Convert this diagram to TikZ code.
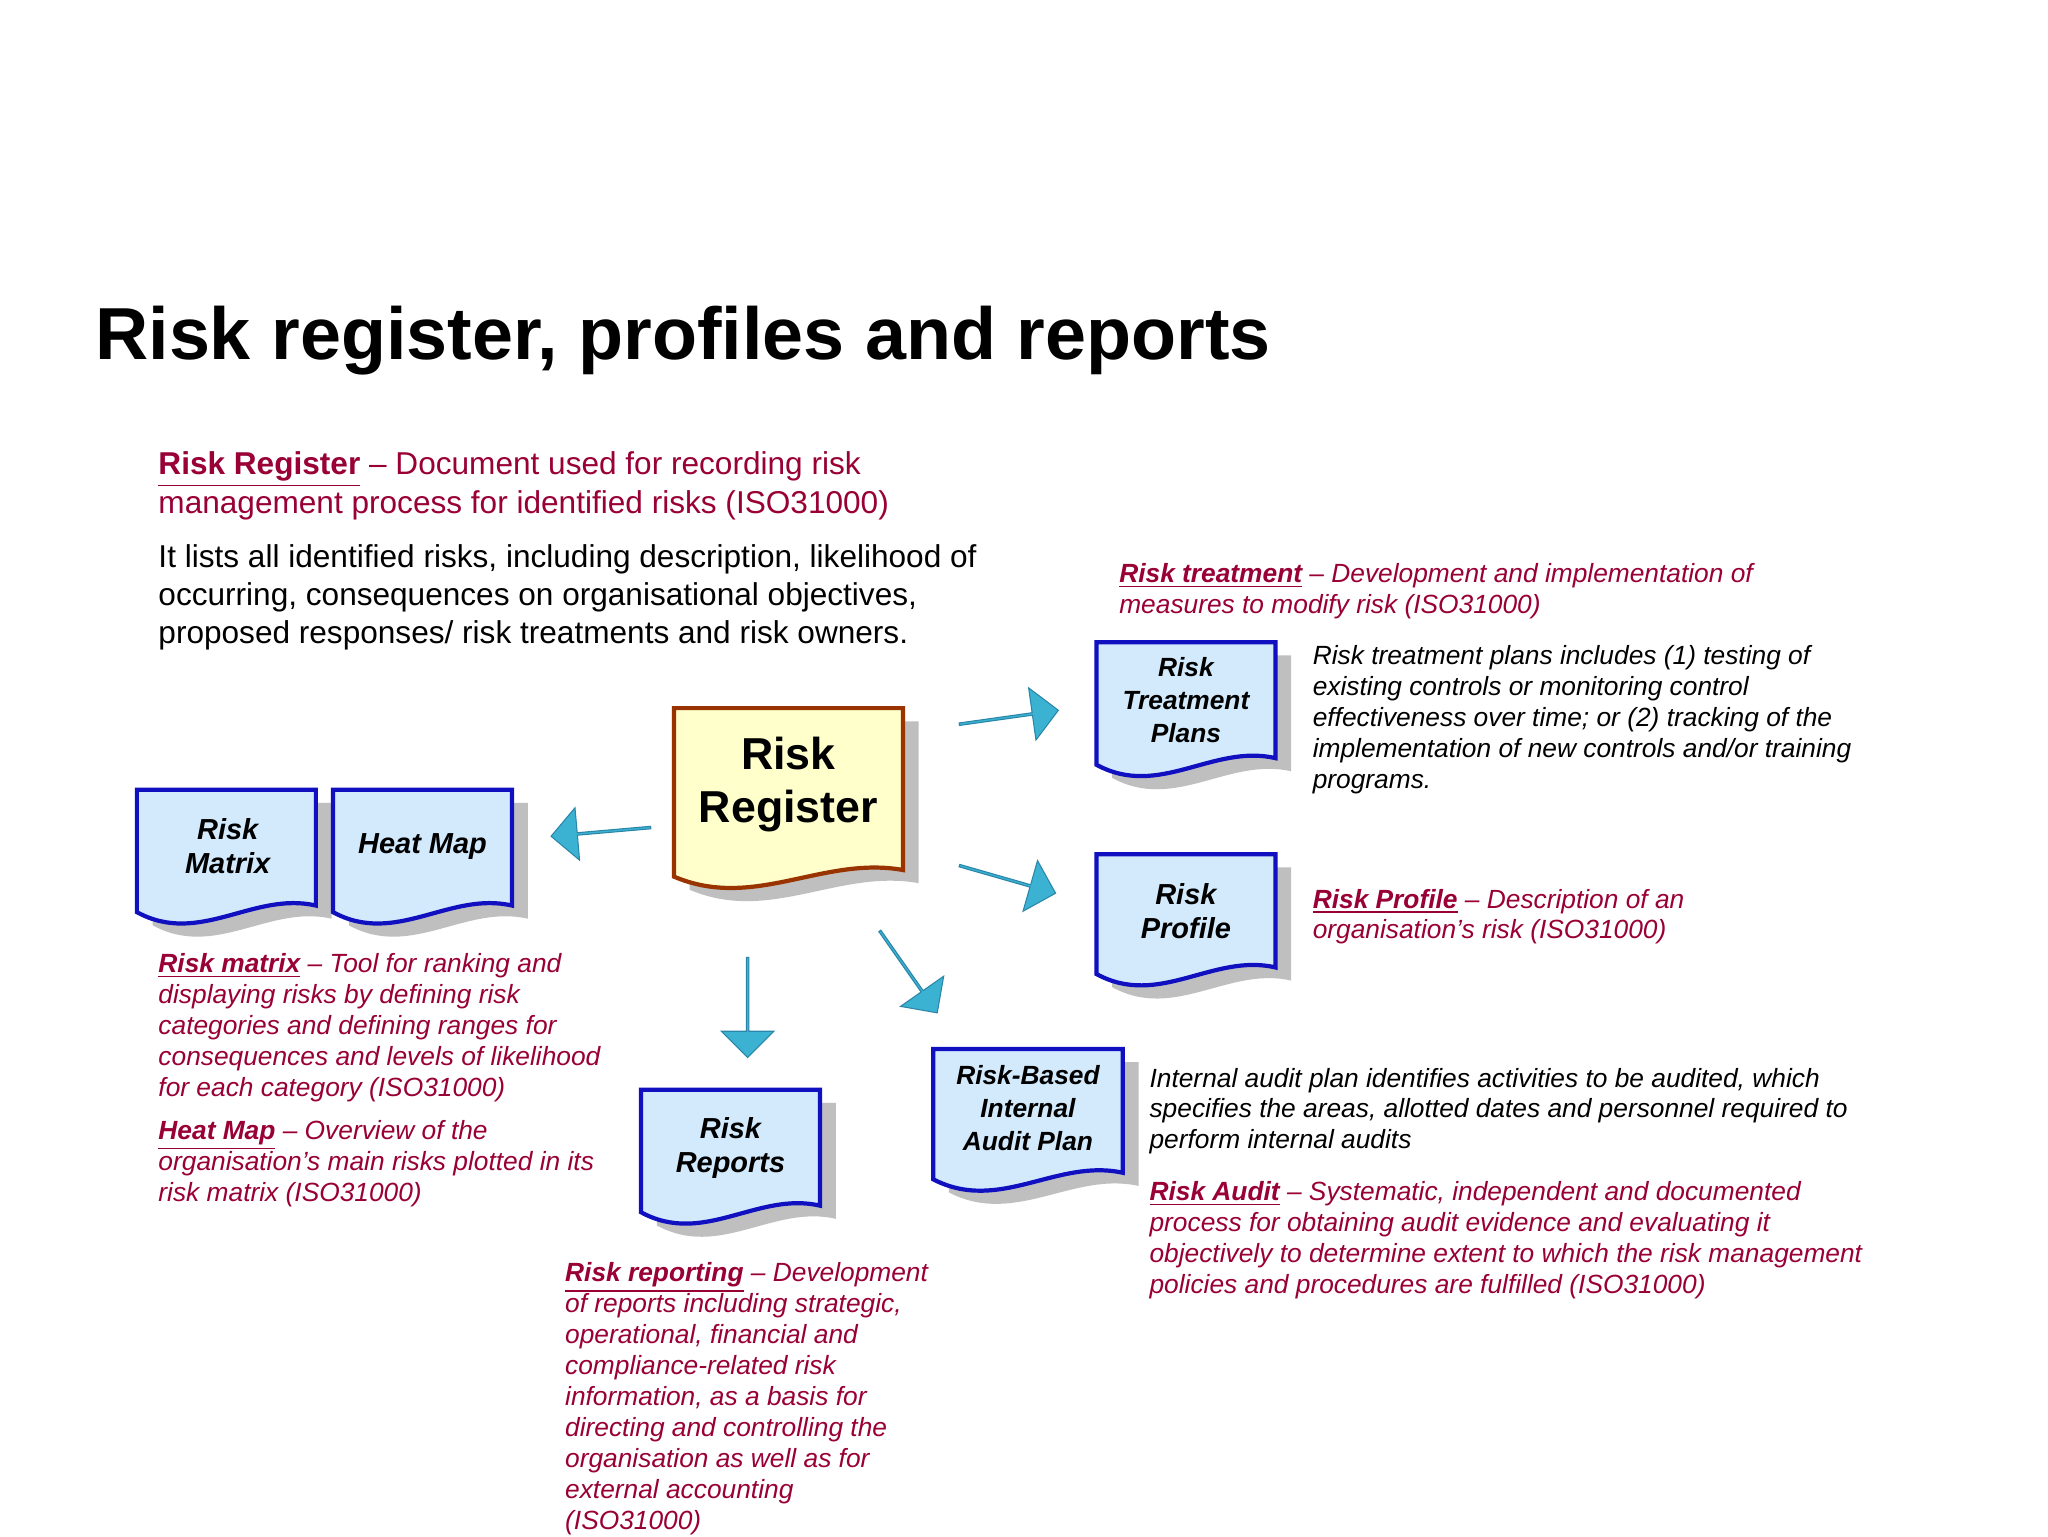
\documentclass[tikz,border=0pt]{standalone}
\usepackage{fontspec}
\setmainfont{Liberation Sans}
\usetikzlibrary{shapes.arrows}
\definecolor{rred}{HTML}{990036}
\definecolor{dfill}{HTML}{D2EAFC}
\definecolor{ddraw}{HTML}{1010C0}
\definecolor{yfill}{HTML}{FFFFCC}
\definecolor{ydraw}{HTML}{993300}
\definecolor{arr}{HTML}{3CB2D2}
\definecolor{arrd}{HTML}{2A86A8}
\newcommand\docshape[7]{%
  \fill[black!25] ({#2+12},{#3+10}) -- ({#4+12},{#3+10}) -- ({#4+12},{#5-7})
    .. controls ({#2+12+0.65*(#4-#2)},{#5-18}) and ({#2+12+0.35*(#4-#2)},{#5+24}) .. ({#2+12},{#5-2}) -- cycle;
  \draw[line width=1.6pt,draw=#7,fill=#6] (#2,#3) -- (#4,#3) -- (#4,{#5-17})
    .. controls ({#2+0.65*(#4-#2)},{#5-28}) and ({#2+0.35*(#4-#2)},{#5+14}) .. (#2,{#5-12}) -- cycle;
  \coordinate (#1) at ({(#2+#4)/2},{(#3+#5)/2-10});}
\tikzset{
  lbl/.style={font=\bfseries\itshape\fontsize{11}{13}\selectfont,align=center,inner sep=0},
  ital/.style={font=\itshape\fontsize{10}{11.75}\selectfont,align=left,inner sep=0,anchor=north west},
  body/.style={font=\fontsize{12}{14.5}\selectfont,align=left,inner sep=0,anchor=north west},
  blk/.style={single arrow,fill=arr,draw=arrd,line width=0.4pt,minimum height=38pt,minimum width=20pt,single arrow head extend=4pt,inner sep=0,single arrow head indent=0pt},
}
\newcommand\term[1]{\underline{\textbf{#1}}}
\begin{document}
\begin{tikzpicture}[x=0.5pt,y=-0.5pt]
\useasboundingbox[fill=white] (0,0) rectangle (1556,1167);
\node[anchor=base west,inner sep=0,font=\bfseries\fontsize{28}{32}\selectfont] (title) at (72,273) {Risk register, profiles and reports};
\node[body,text=rred] (rrdef) at (120,343) {\term{Risk Register} -- Document used for recording risk\\management process for identified risks (ISO31000)};
\node[body] (rrtxt) at (120,413) {It lists all identified risks, including description, likelihood of\\occurring, consequences on organisational objectives,\\proposed responses/ risk treatments and risk owners.};
\node[ital,text=rred] (rtdef) at (850,428) {\term{Risk treatment} -- Development and implementation of\\measures to modify risk (ISO31000)};
\node[ital] (rttxt) at (997,490) {Risk treatment plans includes (1) testing of\\existing controls or monitoring control\\effectiveness over time; or (2) tracking of the\\implementation of new controls and/or training\\programs.};
\node[ital,text=rred] (rpdef) at (997,675) {\term{Risk Profile} -- Description of an\\organisation’s risk (ISO31000)};
\node[ital,text=rred] (rmdef) at (120,724) {\term{Risk matrix} -- Tool for ranking and\\displaying risks by defining risk\\categories and defining ranges for\\consequences and levels of likelihood\\for each category (ISO31000)};
\node[ital,text=rred] (hmdef) at (120,851) {\term{Heat Map} -- Overview of the\\organisation’s main risks plotted in its\\risk matrix (ISO31000)};
\node[ital] (autxt) at (873,811) {Internal audit plan identifies activities to be audited, which\\specifies the areas, allotted dates and personnel required to\\perform internal audits};
\node[ital,text=rred] (radef) at (873,897) {\term{Risk Audit} -- Systematic, independent and documented\\process for obtaining audit evidence and evaluating it\\objectively to determine extent to which the risk management\\policies and procedures are fulfilled (ISO31000)};
\node[ital,text=rred] (rrepdef) at (429,959) {\term{Risk reporting} -- Development\\of reports including strategic,\\operational, financial and\\compliance-related risk\\information, as a basis for\\directing and controlling the\\organisation as well as for\\external accounting\\(ISO31000)};

\docshape{rm}{104}{600}{240}{705}{dfill}{ddraw}
\docshape{hm}{253}{600}{389}{705}{dfill}{ddraw}
\docshape{reg}{512}{538}{686}{678}{yfill}{ydraw}
\docshape{rtp}{833}{488}{969}{593}{dfill}{ddraw}
\docshape{rp}{833}{649}{969}{752}{dfill}{ddraw}
\docshape{rep}{487}{828}{623}{933}{dfill}{ddraw}
\docshape{aud}{709}{797}{853}{908}{dfill}{ddraw}

\node[lbl] (rmL) at (173,643) {Risk\\Matrix};
\node[lbl] (hmL) at (321,643) {Heat Map};
\node[lbl,font=\bfseries\fontsize{17}{20}\selectfont] (regL) at (599,596) {Risk\\Register};
\node[lbl,font=\bfseries\itshape\fontsize{10}{12.5}\selectfont] (rtpL) at (901,532) {Risk\\Treatment\\Plans};
\node[lbl] (rpL) at (901,692) {Risk\\Profile};
\node[lbl] (repL) at (555,872) {Risk\\Reports};
\node[lbl,font=\bfseries\itshape\fontsize{10}{12.5}\selectfont] (audL) at (781,842) {Risk-Based\\Internal\\Audit Plan};

\node[blk,rotate=185] (a1) at (457,632) {};
\node[blk,rotate=8] (a2) at (766,545) {};
\node[blk,rotate=-16] (a3) at (765,668) {};
\node[blk,rotate=-90] (a4) at (568,765) {};
\node[blk,rotate=-55] (a5) at (690,738) {};
\end{tikzpicture}
\end{document}
